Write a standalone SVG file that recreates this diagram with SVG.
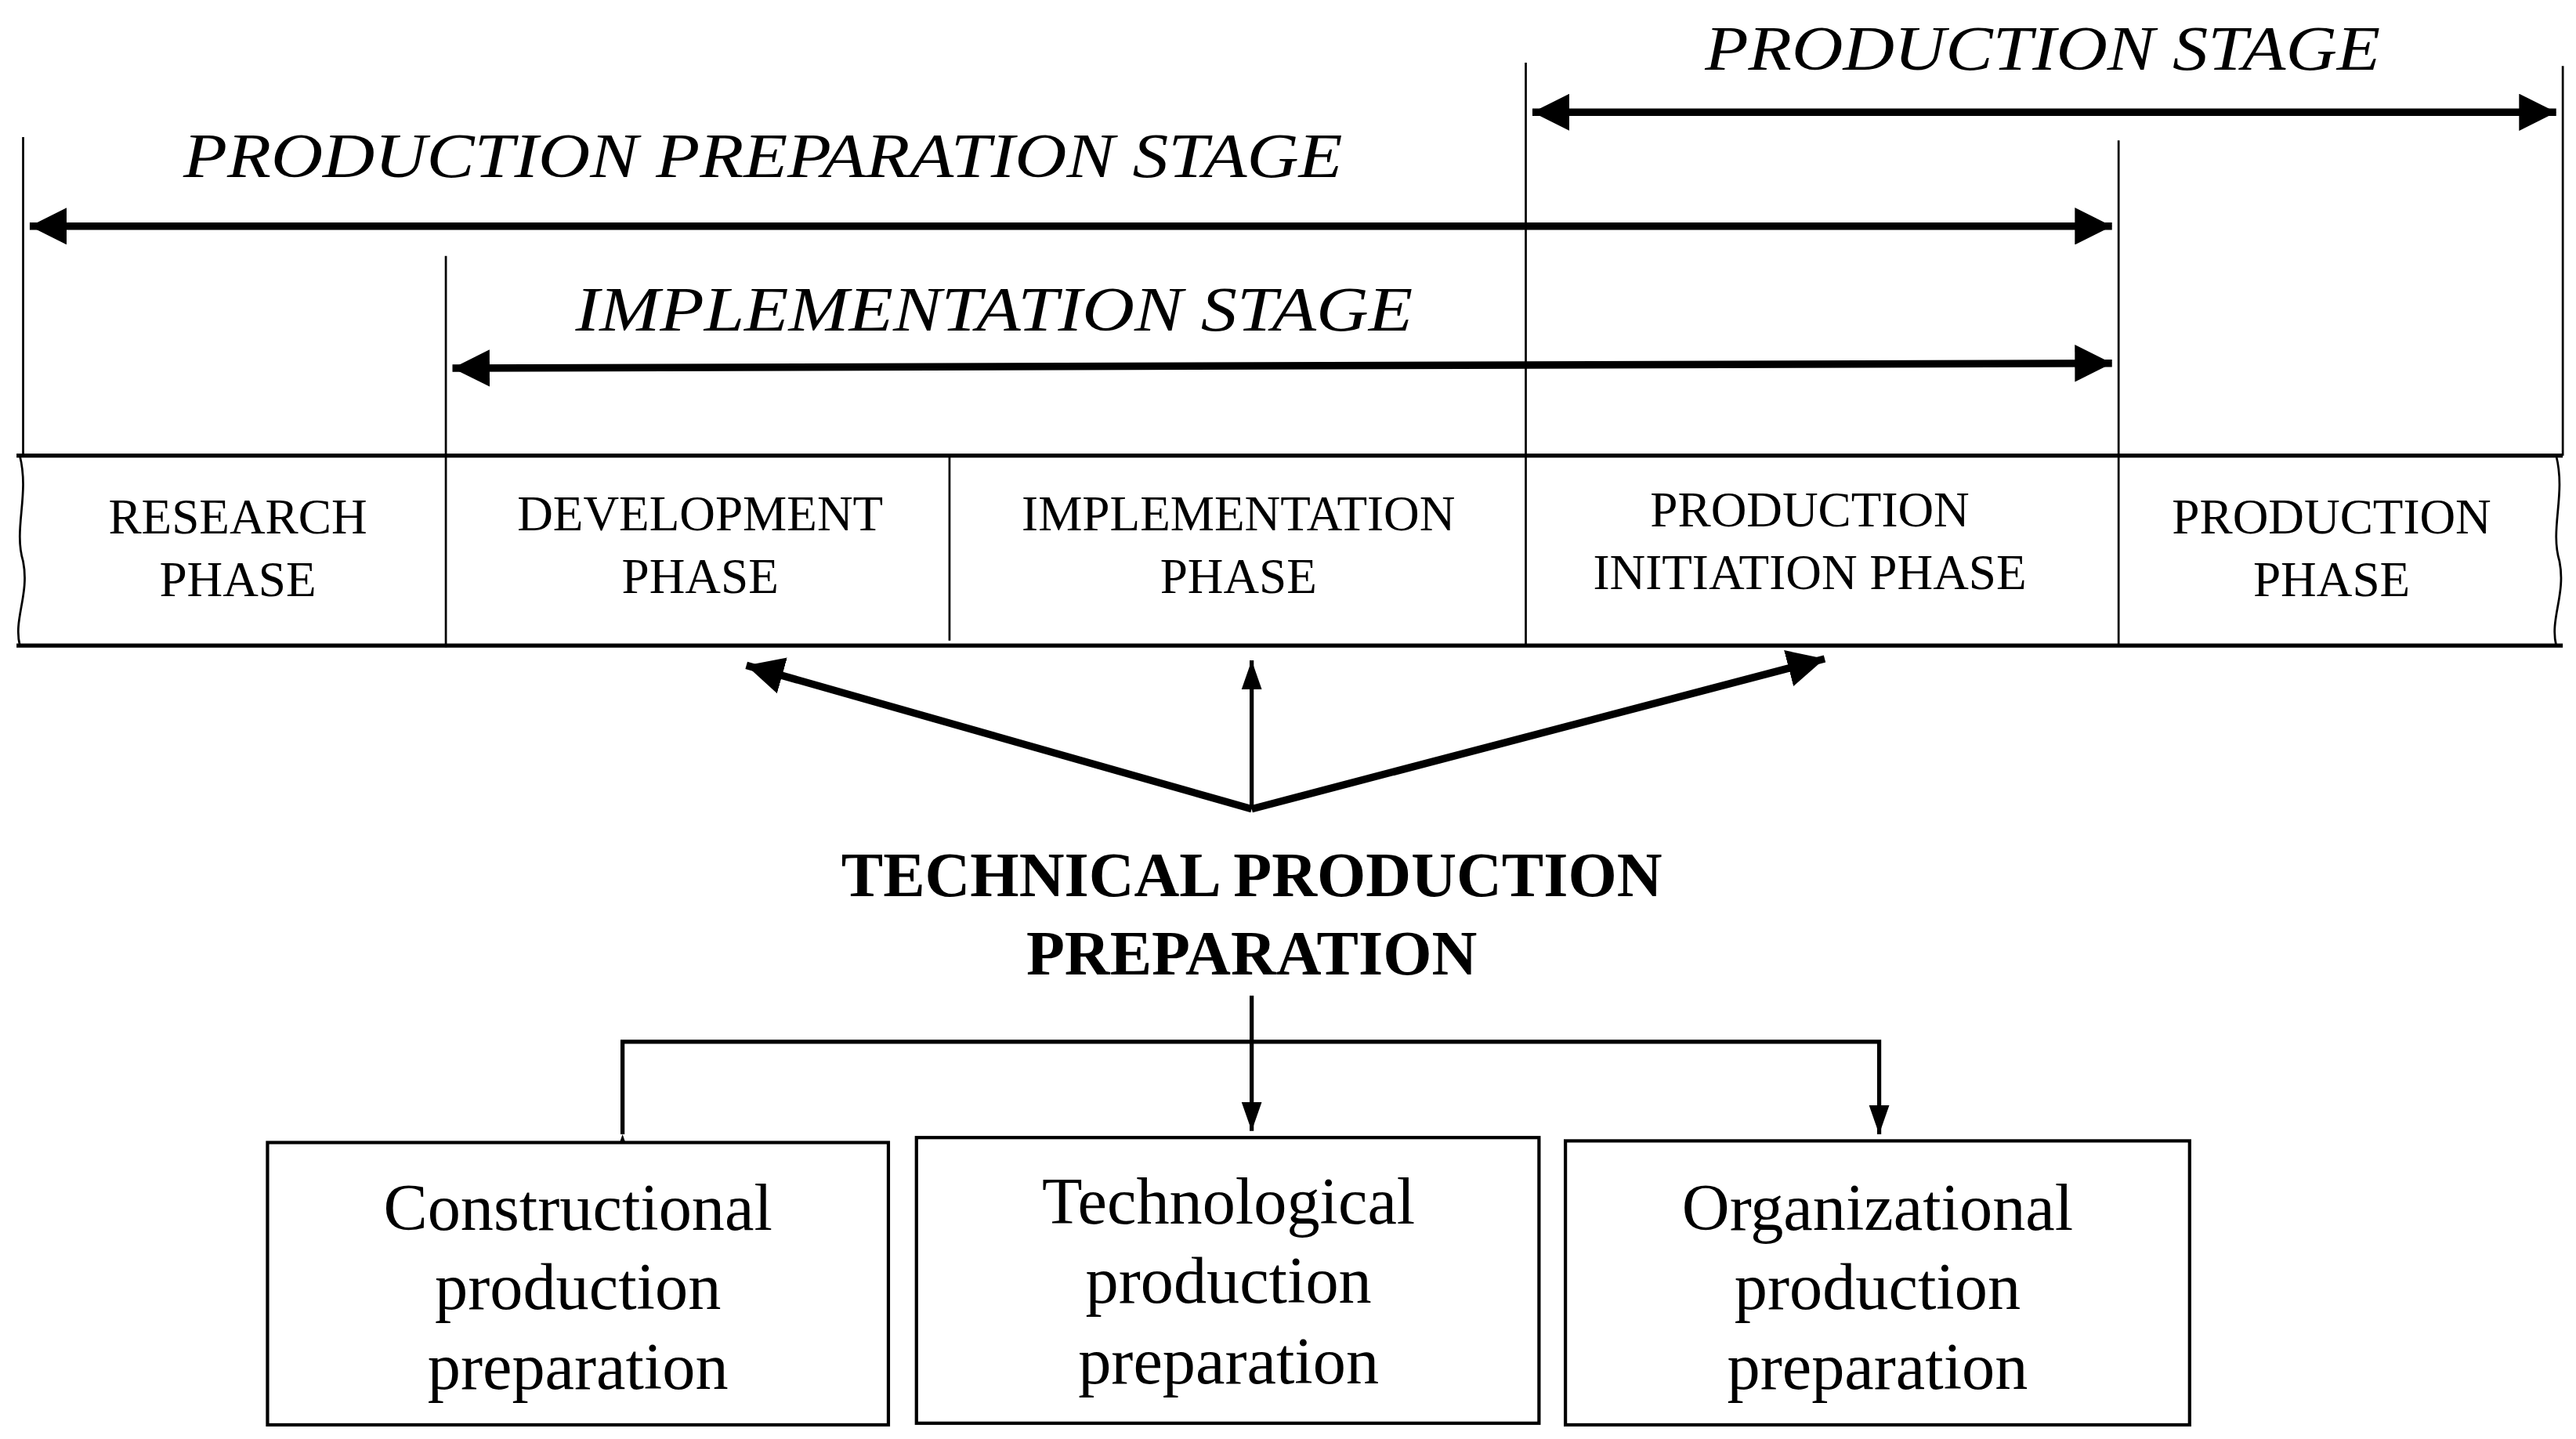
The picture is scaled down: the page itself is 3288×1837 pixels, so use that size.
<svg xmlns="http://www.w3.org/2000/svg" width="3288" height="1837" viewBox="0 0 3288 1837">
<style>
text{font-family:"Liberation Serif","DejaVu Serif",serif;fill:#000;text-anchor:middle}
.st{font-style:italic;font-size:38px}
.ph{font-size:30px}
.tt{font-weight:bold;font-size:38px}
.bx{font-size:40px}
.thin{stroke:#000;stroke-width:1.3;fill:none}
.thk{stroke:#000;stroke-width:4.5;fill:none}
.med{stroke:#000;stroke-width:2.5;fill:none}
.box{fill:#fff;stroke:#000;stroke-width:2}
</style>
<defs>
<marker id="a" viewBox="0 0 10 10" refX="10" refY="5" markerWidth="5" markerHeight="5" orient="auto-start-reverse" markerUnits="strokeWidth"><path d="M0,0L10,5L0,10z" fill="#000"/></marker>
<marker id="b" viewBox="0 0 10 10" refX="10" refY="5" markerWidth="7" markerHeight="7" orient="auto" markerUnits="strokeWidth"><path d="M0,1.5L10,5L0,8.5z" fill="#000"/></marker>
</defs>
<rect width="3288" height="1837" fill="#fff"/>
<g transform="scale(2.1077)">
<g id="stages">
<text class="st" x="1237" y="42" textLength="409" lengthAdjust="spacingAndGlyphs">PRODUCTION STAGE</text>
<text class="st" x="462" y="107" textLength="702" lengthAdjust="spacingAndGlyphs">PRODUCTION PREPARATION STAGE</text>
<text class="st" x="602" y="200" textLength="507" lengthAdjust="spacingAndGlyphs">IMPLEMENTATION STAGE</text>
</g>
<g id="connectors">
<line class="thin" x1="924" y1="38" x2="924" y2="390"/>
<line class="thin" x1="1552" y1="40" x2="1552" y2="276"/>
<line class="thin" x1="14" y1="83" x2="14" y2="276"/>
<line class="thin" x1="1283" y1="85" x2="1283" y2="390"/>
<line class="thin" x1="270" y1="155" x2="270" y2="392"/>
<line class="thk" x1="928" y1="68" x2="1548" y2="68" marker-start="url(#a)" marker-end="url(#a)"/>
<line class="thk" x1="18" y1="137" x2="1279" y2="137" marker-start="url(#a)" marker-end="url(#a)"/>
<line class="thk" x1="274" y1="223" x2="1279" y2="220" marker-start="url(#a)" marker-end="url(#a)"/>
<line class="thk" x1="758" y1="490" x2="452" y2="403" marker-end="url(#a)"/>
<line class="med" x1="758" y1="490" x2="758" y2="400" marker-end="url(#b)"/>
<line class="thk" x1="758" y1="490" x2="1105" y2="399" marker-end="url(#a)"/>
<line class="med" x1="758" y1="603" x2="758" y2="685" marker-end="url(#b)"/>
<polyline class="med" points="377,687 377,631 1138,631 1138,687" marker-start="url(#b)" marker-end="url(#b)"/>
</g>
<g id="phases">
<line class="med" x1="10" y1="276" x2="1552" y2="276"/>
<line class="med" x1="10" y1="391" x2="1552" y2="391"/>
<path class="thin" d="M12,276 C18,300 8,320 14,340 C18,360 8,375 12,391"/>
<path class="thin" d="M1548,276 C1554,300 1544,320 1550,340 C1554,360 1544,375 1548,391"/>
<line class="thin" x1="575" y1="276" x2="575" y2="388"/>
<text class="ph" x="144" y="323">RESEARCH</text><text class="ph" x="144" y="361">PHASE</text>
<text class="ph" x="424" y="321">DEVELOPMENT</text><text class="ph" x="424" y="359">PHASE</text>
<text class="ph" x="750" y="321">IMPLEMENTATION</text><text class="ph" x="750" y="359">PHASE</text>
<text class="ph" x="1096" y="319">PRODUCTION</text><text class="ph" x="1096" y="357">INITIATION PHASE</text>
<text class="ph" x="1412" y="323">PRODUCTION</text><text class="ph" x="1412" y="361">PHASE</text>
</g>
<g id="title">
<text class="tt" x="758" y="543">TECHNICAL PRODUCTION</text>
<text class="tt" x="758" y="590">PREPARATION</text>
</g>
<g id="constructional">
<rect class="box" x="162" y="692" width="376" height="171"/>
<text class="bx" x="350" y="745">Constructional</text><text class="bx" x="350" y="793">production</text><text class="bx" x="350" y="841">preparation</text>
</g>
<g id="technological">
<rect class="box" x="555" y="689" width="377" height="173"/>
<text class="bx" x="744" y="741">Technological</text><text class="bx" x="744" y="789">production</text><text class="bx" x="744" y="838">preparation</text>
</g>
<g id="organizational">
<rect class="box" x="948" y="691" width="378" height="172"/>
<text class="bx" x="1137" y="745">Organizational</text><text class="bx" x="1137" y="793">production</text><text class="bx" x="1137" y="841">preparation</text>
</g>
</g>
</svg>
